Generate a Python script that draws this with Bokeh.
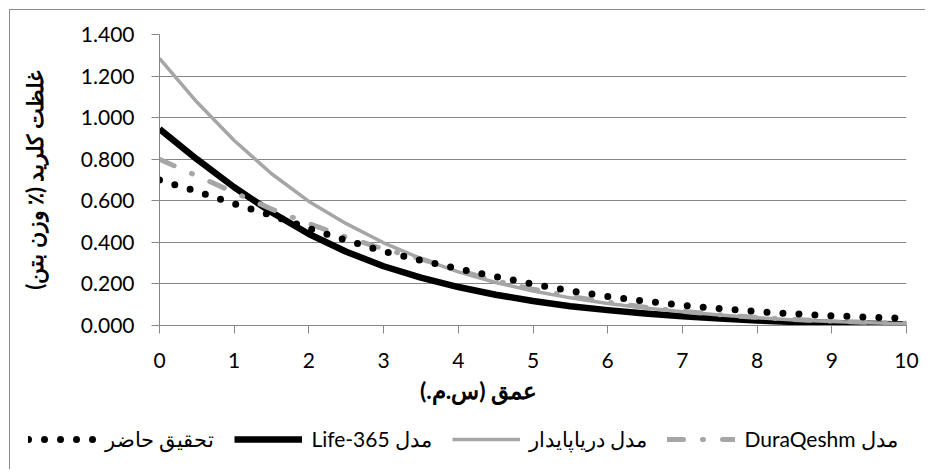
import math
from bokeh.plotting import figure
from bokeh.models import Range1d, FixedTicker, NumeralTickFormatter, Label, Legend, LegendItem
from bokeh.embed import file_html
from bokeh.resources import INLINE

# ---- data ----
depth = [0, 0.5, 1, 1.5, 2, 2.5, 3, 3.5, 4, 4.5, 5, 5.5, 6, 6.5, 7, 7.5, 8, 8.5, 9, 9.5, 10]
present_study = [0.700, 0.645, 0.585, 0.530, 0.467, 0.410, 0.357, 0.313, 0.273, 0.235, 0.200,
                 0.166, 0.140, 0.117, 0.097, 0.081, 0.067, 0.056, 0.047, 0.040, 0.035]
life365 = [0.945, 0.800, 0.665, 0.545, 0.440, 0.355, 0.285, 0.230, 0.185, 0.148, 0.118,
           0.093, 0.074, 0.058, 0.045, 0.034, 0.024, 0.017, 0.012, 0.008, 0.005]
daryapaydar = [1.285, 1.075, 0.890, 0.730, 0.597, 0.490, 0.398, 0.322, 0.258, 0.207, 0.166,
               0.133, 0.106, 0.084, 0.066, 0.050, 0.037, 0.027, 0.019, 0.013, 0.009]
duraqeshm = [0.800, 0.720, 0.640, 0.560, 0.490, 0.425, 0.368, 0.320, 0.265, 0.215, 0.175,
             0.140, 0.112, 0.088, 0.068, 0.052, 0.039, 0.029, 0.021, 0.015, 0.011]

x_ticks = [0, 1, 2, 3, 4, 5, 6, 7, 8, 9, 10]
y_ticks = [0.0, 0.2, 0.4, 0.6, 0.8, 1.0, 1.2, 1.4]

series_names = ["تحقیق حاضر", "مدل Life-365", "مدل دریاپایدار", "مدل DuraQeshm"]
x_title = "عمق (س.م.)"
y_title = "غلظت کلرید (٪ وزن بتن)"


def rtl(s):
    return "\u202b" + s + "\u202c"


GRID = "#868686"
LIGHT = "#a6a6a6"
FONT = "Lato"
BORDER = "1px solid #8c8c8c"

styles = {
    "black": dict(line_color="#000000", line_width=6.5, line_join="round"),
    "darya": dict(line_color=LIGHT, line_width=3.5, line_join="round"),
    "dura": dict(line_color=LIGHT, line_width=5, line_dash="16 19 1 19", line_cap="round"),
    "dots": dict(line_color="#000000", line_width=7, line_dash="0 16", line_cap="round"),
}
series = [("dots", present_study), ("black", life365), ("darya", daryapaydar), ("dura", duraqeshm)]

# ---------------- main plot ----------------
p = figure(width=916, height=367, output_backend="svg", toolbar_location=None,
           x_range=Range1d(0, 10), y_range=Range1d(0, 1.4),
           min_border_left=149, min_border_right=20, min_border_top=24, min_border_bottom=52)
p.styles = {"margin-left": "9px", "margin-top": "9px", "border-left": BORDER, "border-top": BORDER}
p.outline_line_color = None
p.background_fill_color = "white"
p.border_fill_color = "white"

p.xgrid.visible = False
p.ygrid.grid_line_color = GRID
p.ygrid.grid_line_width = 1
p.ygrid.ticker = FixedTicker(ticks=y_ticks)

p.xaxis.ticker = FixedTicker(ticks=x_ticks)
p.yaxis.ticker = FixedTicker(ticks=y_ticks)
p.yaxis.formatter = NumeralTickFormatter(format="0.000")
for ax in (p.xaxis[0], p.yaxis[0]):
    ax.axis_line_color = GRID
    ax.axis_line_width = 1
    ax.major_tick_line_color = GRID
    ax.major_tick_in = 0
    ax.major_tick_out = 8
    ax.minor_tick_line_color = None
    ax.major_label_text_font = FONT
    ax.major_label_text_font_size = "21px"
    ax.major_label_text_color = "#000000"
p.yaxis.major_label_standoff = 17
p.xaxis.major_label_standoff = 19

p.yaxis.axis_label = rtl(y_title)
p.yaxis.axis_label_standoff = 30
p.yaxis.axis_label_text_font = FONT
p.yaxis.axis_label_text_font_size = "22px"
p.yaxis.axis_label_text_font_style = "bold"
p.yaxis.axis_label_text_color = "#000000"

# drawing order: black, light solid, dash-dot, dots on top
for key in ("black", "darya", "dura", "dots"):
    p.line(depth, dict(series)[key], **styles[key])

# ---------------- strip below: x title + legend ----------------
lg = figure(width=916, height=93, output_backend="svg", toolbar_location=None,
            x_range=Range1d(0, 10), y_range=Range1d(100, 101), x_axis_type=None, y_axis_type=None,
            min_border_left=0, min_border_right=0, min_border_top=0, min_border_bottom=0)
lg.styles = {"margin-left": "9px", "border-left": BORDER}
lg.outline_line_color = None
lg.grid.visible = False
lg.background_fill_color = "white"
lg.border_fill_color = "white"

lg.add_layout(Label(x=468, y=80, x_units="screen", y_units="screen", text=rtl(x_title),
                    text_align="center", text_baseline="middle", text_font=FONT,
                    text_font_size="23px", text_font_style="bold", text_color="#000000"))

items = []
for name, (key, vals) in zip(series_names, series):
    r = lg.line(depth, vals, **styles[key])  # outside the strip's visible range
    items.append(LegendItem(label=rtl(name), renderers=[r]))

legend = Legend(items=items, orientation="horizontal", location=(18, 17), padding=0, margin=0,
                spacing=20, glyph_width=68, glyph_height=24, label_height=24, label_standoff=9,
                label_text_font=FONT, label_text_font_size="21px", label_text_color="#000000",
                background_fill_alpha=0, border_line_color=None)
lg.add_layout(legend, "center")

open("out.html", "w").write(file_html([p, lg], INLINE))
